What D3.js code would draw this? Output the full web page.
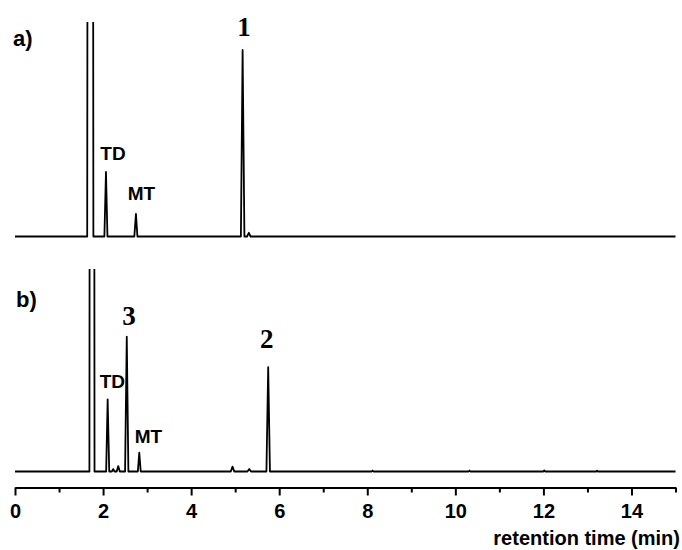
<!DOCTYPE html>
<html>
<head>
<meta charset="utf-8">
<script src="https://cdn.jsdelivr.net/npm/d3@7"></script>
<style>
  body { margin: 0; background: #fff; }
  svg { display: block; }
  .sans { font-family: "Liberation Sans", Arial, sans-serif; font-weight: bold; }
  .serif { font-family: "Liberation Serif", "Times New Roman", serif; font-weight: bold; }
</style>
</head>
<body>
<div id="chart"></div>
<script>
// chromatogram a) : [retention time (min), signal]
const traceA = [
	[0, 0], [1.64, 0], [1.655, 400], [1.765, 400], [1.78, 0],
	[2.03, 0], [2.066, 34.6], [2.10, 0],
	[2.71, 0], [2.747, 12.1], [2.78, 0],
	[5.13, 0], [5.169, 100], [5.21, 0], [5.27, 0], [5.31, 2], [5.35, 0],
	[15, 0]
];

// chromatogram b)
const traceB = [
	[0, 0], [1.69, 0], [1.703, 400], [1.793, 400], [1.806, 0],
	[2.07, 0], [2.104, 38.7], [2.14, 0],
	[2.20, 0], [2.232, 1.3], [2.26, 0],
	[2.31, 0], [2.345, 2.9], [2.38, 0],
	[2.50, 0], [2.538, 72.3], [2.575, 0],
	[2.79, 0], [2.822, 10.1], [2.855, 0],
	[4.90, 0], [4.94, 2.6], [4.98, 0],
	[5.28, 0], [5.32, 1.3], [5.36, 0],
	[5.71, 0], [5.75, 55.9], [5.79, 0],
	[8.10, 0], [8.12, 0.5], [8.14, 0],
	[10.30, 0], [10.32, 0.5], [10.34, 0],
	[12.00, 0], [12.02, 0.6], [12.04, 0],
	[13.20, 0], [13.22, 0.4], [13.24, 0],
	[15, 0]
];

// peak labels: text, time, signal level of the text baseline
const labelsA = [
	{ text: "TD", t: 2.225, s: 41, serif: false },
	{ text: "MT", t: 2.87, s: 19.6, serif: false },
	{ text: "1", t: 5.2, s: 107.5, serif: true }
];
const labelsB = [
	{ text: "TD", t: 2.21, s: 44.8, serif: false },
	{ text: "MT", t: 3.03, s: 15.3, serif: false },
	{ text: "3", t: 2.59, s: 78.6, serif: true },
	{ text: "2", t: 5.72, s: 66.2, serif: true }
];

const majorTicks = [0, 2, 4, 6, 8, 10, 12, 14];
const minorTicks = [1, 3, 5, 7, 9, 11, 13, 15];
const xTitle = "retention time (min)";

const width = 682, height = 550;

const svg = d3.select("#chart").append("svg")
	.attr("width", width)
	.attr("height", height);

const x = d3.scaleLinear().domain([0, 15]).range([15, 675.5]);

const panels = [
	{ tag: "a)", trace: traceA, labels: labelsA, base: 236.5, top: 22, tagX: 13, tagY: 46 },
	{ tag: "b)", trace: traceB, labels: labelsB, base: 471.5, top: 269, tagX: 16, tagY: 307 }
];

const pxPerUnit = 1.865;

panels.forEach((p, i) => {
	const y = d3.scaleLinear().domain([0, 100]).range([p.base, p.base - 100 * pxPerUnit]);

	svg.append("clipPath").attr("id", "clip" + i)
		.append("rect")
		.attr("x", 0).attr("y", p.top)
		.attr("width", width).attr("height", p.base - p.top + 10);

	const line = d3.line().x((d) => x(d[0])).y((d) => y(d[1]));

	svg.append("path")
		.datum(p.trace)
		.attr("clip-path", `url(#clip${i})`)
		.attr("d", line)
		.attr("fill", "none")
		.attr("stroke", "#000")
		.attr("stroke-width", 1.8)
		.attr("stroke-linejoin", "round");

	svg.selectAll(null)
		.data(p.labels)
		.enter()
		.append("text")
		.attr("class", (d) => (d.serif ? "serif" : "sans"))
		.attr("x", (d) => x(d.t))
		.attr("y", (d) => y(d.s))
		.attr("text-anchor", "middle")
		.style("font-size", (d) => (d.serif ? "27px" : "19px"))
		.text((d) => d.text);

	svg.append("text")
		.attr("class", "sans")
		.attr("x", p.tagX)
		.attr("y", p.tagY)
		.style("font-size", "22px")
		.text(p.tag);
});

// x axis
const axisY = 487.5;

const major = svg.append("g")
	.attr("transform", `translate(0,${axisY})`)
	.call(d3.axisBottom(x).tickValues(majorTicks).tickSize(8).tickSizeOuter(0).tickPadding(8).tickFormat(d3.format("d")));

const minor = svg.append("g")
	.attr("transform", `translate(0,${axisY})`)
	.call(d3.axisBottom(x).tickValues(minorTicks).tickSize(5).tickSizeOuter(0).tickFormat(""));

[major, minor].forEach((g) => {
	g.select(".domain").attr("stroke-width", 2);
	g.selectAll(".tick line").attr("stroke-width", 2);
});

major.selectAll("text")
	.attr("class", "sans")
	.style("font-size", "20px")
	.attr("fill", "#000");

svg.append("text")
	.attr("class", "sans")
	.attr("x", 680)
	.attr("y", 545)
	.attr("text-anchor", "end")
	.style("font-size", "20px")
	.text(xTitle);
</script>
</body>
</html>
